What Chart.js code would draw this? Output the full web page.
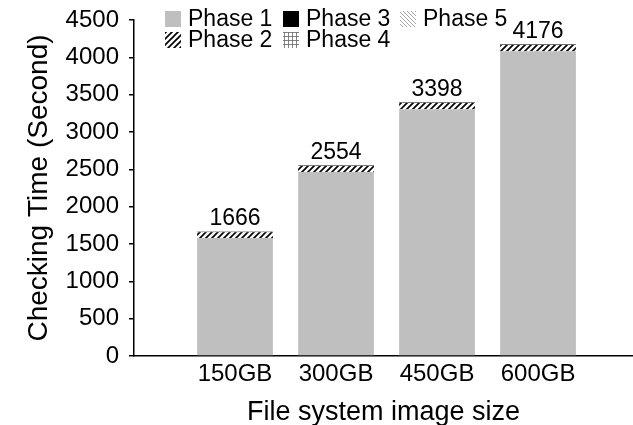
<!DOCTYPE html>
<html>
<head>
<meta charset="utf-8">
<script src="https://cdn.jsdelivr.net/npm/chart.js@4.4.1/dist/chart.umd.min.js"></script>
<style>
  html, body { margin: 0; padding: 0; background: #fff; }
  #wrap { width: 633px; height: 425px; }
</style>
</head>
<body>
<div id="wrap"><canvas id="chart"></canvas></div>
<script>
/* data */
const sizes = ["150GB", "300GB", "450GB", "600GB"];
const xPos = [1, 2, 3, 4];
const phase1 = [1581, 2464, 3305, 4080];
const phase2 = [78, 82, 84, 86];
const phase3 = [4, 5, 5, 6];
const phase4 = [2, 2, 3, 3];
const phase5 = [1, 1, 1, 1];
const totals = [1666, 2554, 3398, 4176];
const yTicks = [0, 500, 1000, 1500, 2000, 2500, 3000, 3500, 4000, 4500];

const FONT = "'Liberation Sans', Arial, Helvetica, sans-serif";

function makePattern(size, draw) {
  const c = document.createElement("canvas");
  c.width = size;
  c.height = size;
  const g = c.getContext("2d");
  g.fillStyle = "#fff";
  g.fillRect(0, 0, size, size);
  draw(g, size);
  return g.createPattern(c, "repeat");
}

const hatchThick = makePattern(6, (g, s) => {
  g.strokeStyle = "#000";
  g.lineWidth = 1.7;
  g.beginPath();
  g.moveTo(-1, s + 1); g.lineTo(s + 1, -1);
  g.moveTo(-1, 1); g.lineTo(1, -1);
  g.moveTo(s - 1, s + 1); g.lineTo(s + 1, s - 1);
  g.stroke();
});

const hatchGrid = makePattern(4, (g, s) => {
  g.strokeStyle = "#666";
  g.lineWidth = 0.8;
  g.beginPath();
  g.moveTo(0, 0.5); g.lineTo(s, 0.5);
  g.moveTo(0.5, 0); g.lineTo(0.5, s);
  g.stroke();
});

const hatchLight = makePattern(4, (g, s) => {
  g.strokeStyle = "#9a9a9a";
  g.lineWidth = 0.9;
  g.beginPath();
  g.moveTo(-1, -1); g.lineTo(s + 1, s + 1);
  g.moveTo(s - 1, -1); g.lineTo(s + 1, 1);
  g.moveTo(-1, s - 1); g.lineTo(1, s + 1);
  g.stroke();
});

function pts(values) {
  return values.map((v, i) => ({ x: xPos[i], y: v }));
}

const datasets = [
  { label: "Phase 1", data: pts(phase1), backgroundColor: "#bfbfbf" },
  { label: "Phase 2", data: pts(phase2), backgroundColor: hatchThick },
  { label: "Phase 3", data: pts(phase3), backgroundColor: "#000" },
  { label: "Phase 4", data: pts(phase4), backgroundColor: hatchGrid },
  { label: "Phase 5", data: pts(phase5), backgroundColor: hatchLight },
];

// legend sits inside the plot, two rows, column-major
const legendSlots = [
  { ds: 0, x: 165, y: 19 },
  { ds: 1, x: 165, y: 40 },
  { ds: 2, x: 283, y: 19 },
  { ds: 3, x: 283, y: 40 },
  { ds: 4, x: 400, y: 19 },
];

const insideLegend = {
  id: "insideLegend",
  afterDraw(chart) {
    const ctx = chart.ctx;
    ctx.save();
    ctx.font = "23px " + FONT;
    ctx.textBaseline = "middle";
    ctx.textAlign = "left";
    legendSlots.forEach((s) => {
      const ds = chart.data.datasets[s.ds];
      ctx.fillStyle = ds.backgroundColor;
      ctx.fillRect(s.x, s.y - 8, 16, 16);
      ctx.fillStyle = "#000";
      ctx.fillText(ds.label, s.x + 23, s.y + 1);
    });
    ctx.restore();
  },
};

const totalLabels = {
  id: "totalLabels",
  afterDatasetsDraw(chart) {
    const ctx = chart.ctx;
    const top = chart.getDatasetMeta(chart.data.datasets.length - 1);
    ctx.save();
    ctx.font = "23px " + FONT;
    ctx.fillStyle = "#000";
    ctx.textAlign = "center";
    ctx.textBaseline = "bottom";
    top.data.forEach((bar, i) => {
      ctx.fillText(String(totals[i]), bar.x, bar.y - 1);
    });
    ctx.restore();
  },
};

new Chart(document.getElementById("chart"), {
  type: "bar",
  data: { datasets },
  options: {
    responsive: true,
    maintainAspectRatio: false,
    animation: false,
    categoryPercentage: 1,
    barPercentage: 0.75,
    layout: { padding: 0 },
    scales: {
      x: {
        type: "linear",
        stacked: true,
        offset: false,
        min: 0,
        max: 4.94,
        afterBuildTicks: (scale) => {
          scale.ticks = xPos.map((v) => ({ value: v }));
        },
        afterFit: (scale) => { scale.height = 69; },
        ticks: {
          color: "#000",
          font: { family: FONT, size: 24 },
          padding: 4,
          autoSkip: false,
          maxRotation: 0,
          callback: (v) => sizes[xPos.indexOf(v)] || "",
        },
        grid: { display: false, drawTicks: false },
        border: { display: true, color: "#000", width: 1.5 },
        title: {
          display: true,
          text: "File system image size",
          color: "#000",
          font: { family: FONT, size: 27 },
          padding: { top: 0, bottom: -4 },
        },
      },
      y: {
        stacked: true,
        min: 0,
        max: 4500,
        afterBuildTicks: (scale) => {
          scale.ticks = yTicks.map((v) => ({ value: v }));
        },
        afterFit: (scale) => {
          scale.width = 134;
          scale.paddingTop = 20;
        },
        ticks: {
          color: "#000",
          font: { family: FONT, size: 24 },
          padding: 10,
          callback: (v) => String(v),
        },
        grid: {
          display: true,
          drawOnChartArea: false,
          drawTicks: true,
          tickLength: 5,
          color: "#000",
          lineWidth: 1.5,
        },
        border: { display: true, color: "#000", width: 1.5 },
        title: {
          display: true,
          text: "Checking Time (Second)",
          color: "#000",
          font: { family: FONT, size: 28 },
          padding: { top: 22, bottom: 0 },
        },
      },
    },
    plugins: {
      legend: { display: false },
      tooltip: { enabled: false },
    },
  },
  plugins: [insideLegend, totalLabels],
});
</script>
</body>
</html>
